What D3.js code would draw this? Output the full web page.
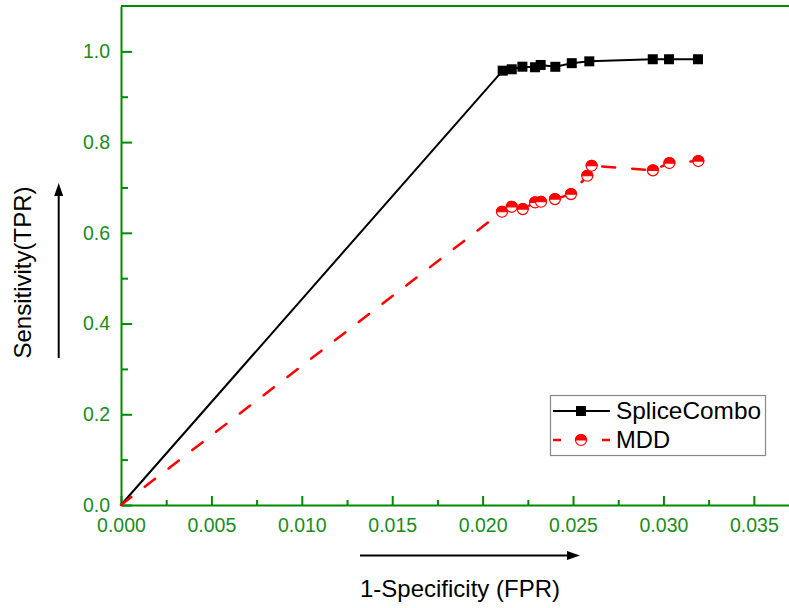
<!DOCTYPE html>
<html>
<head>
<meta charset="utf-8">
<script src="https://cdn.jsdelivr.net/npm/d3@7"></script>
<style>
  html, body { margin: 0; padding: 0; background: #fff; }
  svg { display: block; font-family: "Liberation Sans", Arial, sans-serif; }
</style>
</head>
<body>
<svg id="chart" width="789" height="608"></svg>
<script>
// ---- data ----
const spliceFPR = [0, 0.02111, 0.02161, 0.02220, 0.02290, 0.02321, 0.02402, 0.02493, 0.02590, 0.02941, 0.03031, 0.03191];
const spliceTPR = [0, 0.9574, 0.9605, 0.9662, 0.9650, 0.9700, 0.9660, 0.9740, 0.9780, 0.9826, 0.9826, 0.9826];
const mddFPR = [0, 0.02107, 0.02161, 0.02222, 0.02290, 0.02323, 0.02400, 0.02489, 0.02579, 0.02603, 0.02942, 0.03033, 0.03193];
const mddTPR = [0, 0.6464, 0.6574, 0.6523, 0.6670, 0.6685, 0.6744, 0.6854, 0.7258, 0.7478, 0.7377, 0.7538, 0.7582];
const xMajorTicks = [0, 0.005, 0.010, 0.015, 0.020, 0.025, 0.030, 0.035];
const xMinorTicks = [0.0025, 0.0075, 0.0125, 0.0175, 0.0225, 0.0275, 0.0325];
const yMajorTicks = [0, 0.2, 0.4, 0.6, 0.8, 1.0];
const yMinorTicks = [0.1, 0.3, 0.5, 0.7, 0.9];
const seriesNames = ["SpliceCombo", "MDD"];
const xTitle = "1-Specificity (FPR)";
const yTitle = "Sensitivity(TPR)";

const splice = spliceFPR.map((x, i) => ({x, y: spliceTPR[i]}));
const mdd = mddFPR.map((x, i) => ({x, y: mddTPR[i]}));

const svg = d3.select("#chart");
const green = "#008a00";
const greenText = "#1a8c1a";

const x = d3.scaleLinear().domain([0, 0.037]).range([121, 790]);
const y = d3.scaleLinear().domain([0, 1.1]).range([505, 6]);

// top frame line
svg.append("line").attr("x1", x(0)).attr("x2", 790).attr("y1", y(1.1)).attr("y2", y(1.1))
  .attr("stroke", green).attr("stroke-width", 2);

// minor ticks
svg.append("g").attr("transform", `translate(0,${y(0)})`)
  .call(d3.axisBottom(x).tickValues(xMinorTicks).tickSize(-5).tickSizeOuter(0).tickFormat(""))
  .call(g => g.select(".domain").remove())
  .call(g => g.selectAll("line").attr("stroke", green).attr("stroke-width", 2));
svg.append("g").attr("transform", `translate(${x(0)},0)`)
  .call(d3.axisLeft(y).tickValues(yMinorTicks).tickSize(-7).tickSizeOuter(0).tickFormat(""))
  .call(g => g.select(".domain").remove())
  .call(g => g.selectAll("line").attr("stroke", green).attr("stroke-width", 2));

// major axes
const xAxis = svg.append("g").attr("transform", `translate(0,${y(0)})`)
  .call(d3.axisBottom(x).tickValues(xMajorTicks).tickSize(-9).tickSizeOuter(0).tickPadding(13.5)
    .tickFormat(d3.format(".3f")));
const yAxis = svg.append("g").attr("transform", `translate(${x(0)},0)`)
  .call(d3.axisLeft(y).tickValues(yMajorTicks).tickSize(-11).tickSizeOuter(0).tickPadding(11)
    .tickFormat(d3.format(".1f")));
[xAxis, yAxis].forEach(g => {
  g.select(".domain").attr("stroke", green).attr("stroke-width", 2);
  g.selectAll(".tick line").attr("stroke", green).attr("stroke-width", 2);
  g.selectAll(".tick text").attr("fill", greenText)
    .style("font-size", "19.5px").style("font-family", "'Liberation Sans', Arial, sans-serif");
});

// lines
const line = d3.line().x(d => x(d.x)).y(d => y(d.y));
svg.append("path").datum(splice).attr("d", line)
  .attr("fill", "none").attr("stroke", "#000").attr("stroke-width", 2);
svg.append("path").datum(mdd).attr("d", line)
  .attr("fill", "none").attr("stroke", "#ff0000").attr("stroke-width", 2.5)
  .attr("stroke-dasharray", "13,17").attr("stroke-linecap", "round");

// markers
function squareMarker(g, cx, cy) {
  g.append("rect").attr("x", cx - 5).attr("y", cy - 5).attr("width", 10).attr("height", 10).attr("fill", "#000");
}
function halfCircle(g, cx, cy) {
  const r = 5.5;
  g.append("circle").attr("cx", cx).attr("cy", cy).attr("r", r)
    .attr("fill", "#fff").attr("stroke", "#ff0000").attr("stroke-width", 1.2);
  g.append("path")
    .attr("d", `M${cx - r},${cy} A${r},${r} 0 0 1 ${cx + r},${cy} Z`)
    .attr("fill", "#ff0000").attr("stroke", "#ff0000").attr("stroke-width", 1.2);
}
const mg = svg.append("g");
mdd.slice(1).forEach(d => halfCircle(mg, x(d.x), y(d.y)));
const sg = svg.append("g");
splice.slice(1).forEach(d => squareMarker(sg, x(d.x), y(d.y)));

// legend
const legendTextWidths = [145, 54];
const lg = svg.append("g");
lg.append("rect").attr("x", 550.5).attr("y", 395.5).attr("width", 215).attr("height", 60)
  .attr("fill", "#fff").attr("stroke", "#888").attr("stroke-width", 1.2);
lg.append("line").attr("x1", 553).attr("x2", 610).attr("y1", 411).attr("y2", 411)
  .attr("stroke", "#000").attr("stroke-width", 2);
squareMarker(lg, 581, 411);
lg.append("line").attr("x1", 553).attr("x2", 561).attr("y1", 440).attr("y2", 440)
  .attr("stroke", "#ff0000").attr("stroke-width", 2.5);
lg.append("line").attr("x1", 602).attr("x2", 610).attr("y1", 440).attr("y2", 440)
  .attr("stroke", "#ff0000").attr("stroke-width", 2.5);
halfCircle(lg, 581, 440);
lg.selectAll("text.leg").data(seriesNames).join("text").attr("class", "leg")
  .attr("x", 616).attr("y", (d, i) => 419 + i * 29)
  .attr("textLength", (d, i) => legendTextWidths[i]).attr("lengthAdjust", "spacingAndGlyphs")
  .style("font-size", "24px").attr("fill", "#000").text(d => d);

// axis titles
svg.append("text").attr("x", 460).attr("y", 597).attr("text-anchor", "middle")
  .style("font-size", "24px").attr("fill", "#000").text(xTitle);
svg.append("text").attr("transform", "translate(31,272.5) rotate(-90)").attr("text-anchor", "middle")
  .style("font-size", "24px").attr("fill", "#000").text(yTitle);

// arrows
svg.append("line").attr("x1", 360).attr("x2", 568).attr("y1", 555.5).attr("y2", 555.5)
  .attr("stroke", "#000").attr("stroke-width", 2);
svg.append("path").attr("d", "M580,555.5 L567,551 L567,560 Z").attr("fill", "#000");
svg.append("line").attr("x1", 58.7).attr("x2", 58.7).attr("y1", 358).attr("y2", 194)
  .attr("stroke", "#000").attr("stroke-width", 2);
svg.append("path").attr("d", "M58.7,183 L54.2,196 L63.2,196 Z").attr("fill", "#000");
</script>
</body>
</html>
